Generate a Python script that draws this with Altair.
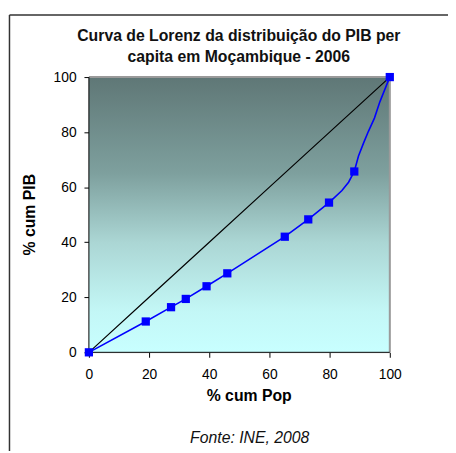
import altair as alt
import pandas as pd

# Lorenz curve points (with markers)
pop_pts = [0, 18.9, 27.3, 32.2, 39.1, 46.0, 65.1, 72.9, 79.8, 88.2, 100]
pib_pts = [0, 11.2, 16.4, 19.4, 24.0, 28.7, 42.0, 48.3, 54.4, 65.7, 100]

# full curve path (markers plus unmarked bends)
pop_curve = [0, 18.9, 27.3, 32.2, 39.1, 46.0, 65.1, 72.9, 79.8, 84.1, 86.3, 88.2, 89.6, 91.3, 92.9, 94.9, 96.7, 100]
pib_curve = [0, 11.2, 16.4, 19.4, 24.0, 28.7, 42.0, 48.3, 54.4, 58.8, 61.8, 65.7, 71.3, 76.1, 80.3, 85.1, 91.0, 100]

# line of equality
eq_x = [0, 20, 40, 60, 80, 100]
eq_y = [0, 20, 40, 60, 80, 100]

title_lines = ["Curva de Lorenz da distribuição  do PIB per", "capita em Moçambique - 2006"]
source_text = "Fonte: INE, 2008"

W, H = 305, 279
FONT = "Liberation Sans"

xs = alt.Scale(domain=[0, 100], nice=False)
ys = alt.Scale(domain=[0, 100], nice=False)

xaxis = alt.Axis(values=[0, 20, 40, 60, 80, 100], title="% cum Pop", domain=False, grid=False,
                 tickSize=5, tickColor="black", labelPadding=11, labelFontSize=14, labelFont=FONT,
                 labelColor="black", labelFlush=False, titleFont=FONT, titleFontSize=16,
                 titleFontWeight="bold", titleColor="black", titleX=162, titleY=44,
                 titleBaseline="middle")
yaxis = alt.Axis(values=[0, 20, 40, 60, 80, 100], title="% cum PIB", domain=False, grid=False,
                 tickSize=5, tickColor="black", labelPadding=8, labelFontSize=14, labelFont=FONT,
                 labelColor="black", labelFlush=False, titleFont=FONT, titleFontSize=16,
                 titleFontWeight="bold", titleColor="black", titleX=-60, titleY=139,
                 titleBaseline="middle", titleAlign="center")

grad = alt.Gradient(
    gradient="linear", x1=0, x2=0, y1=0, y2=1,
    stops=[
        alt.GradientStop(color="#5f7776", offset=0),
        alt.GradientStop(color="#7ea09e", offset=0.35),
        alt.GradientStop(color="#abd6d4", offset=0.6),
        alt.GradientStop(color="#c3f7f6", offset=0.85),
        alt.GradientStop(color="#c8ffff", offset=1),
    ],
)

base = alt.Chart(pd.DataFrame({"a": [0]}))

bg = base.mark_rect(color=grad).encode(
    x=alt.datum(0, scale=xs, axis=xaxis, type="quantitative"),
    x2=alt.datum(100),
    y=alt.datum(0, scale=ys, axis=yaxis, type="quantitative"),
    y2=alt.datum(100),
)

top_border = base.mark_rule(color="#9a9a9a", strokeWidth=2).encode(
    x=alt.datum(0, type="quantitative"), x2=alt.datum(100), y=alt.datum(100, type="quantitative"))
right_border = base.mark_rule(color="#9a9a9a", strokeWidth=2).encode(
    x=alt.datum(100, type="quantitative"), y=alt.datum(0, type="quantitative"), y2=alt.datum(100))
left_axis = base.mark_rule(color="black", strokeWidth=1).encode(
    x=alt.datum(0, type="quantitative"), y=alt.datum(0, type="quantitative"), y2=alt.datum(100))
bottom_axis = base.mark_rule(color="black", strokeWidth=1).encode(
    x=alt.datum(0, type="quantitative"), x2=alt.datum(100), y=alt.datum(0, type="quantitative"))

eq_df = pd.DataFrame({"x": eq_x, "y": eq_y})
eq_line = alt.Chart(eq_df).mark_line(color="black", strokeWidth=1.2).encode(
    x=alt.X("x:Q"), y=alt.Y("y:Q"))

curve_df = pd.DataFrame({"x": pop_curve, "y": pib_curve, "o": list(range(len(pop_curve)))})
curve = alt.Chart(curve_df).mark_line(color="#0000ff", strokeWidth=1.6).encode(
    x=alt.X("x:Q"), y=alt.Y("y:Q"), order="o:Q")

pts_df = pd.DataFrame({"x": pop_pts, "y": pib_pts})
markers = alt.Chart(pts_df).mark_point(shape="square", filled=True, size=70, color="#0000ff", opacity=1).encode(
    x=alt.X("x:Q"), y=alt.Y("y:Q"))

title1 = base.mark_text(text=title_lines[0], font=FONT, fontSize=16, fontWeight="bold", color="#111111",
                        align="center", baseline="middle").encode(x=alt.value(152), y=alt.value(-42))
title2 = base.mark_text(text=title_lines[1], font=FONT, fontSize=16, fontWeight="bold", color="#111111",
                        align="center", baseline="middle").encode(x=alt.value(152), y=alt.value(-20))

source = base.mark_text(text=source_text, font=FONT, fontSize=16, fontStyle="italic", color="#111111",
                        align="center", baseline="middle").encode(
    x=alt.value(163), y=alt.value(366))

frame_top = base.mark_rule(color="#333333", strokeWidth=1.5).encode(
    x=alt.value(-80.5), x2=alt.value(364), y=alt.value(-63))
frame_left = base.mark_rule(color="#333333", strokeWidth=1.5).encode(
    x=alt.value(-80.5), y=alt.value(-63), y2=alt.value(385))

chart = alt.layer(
    bg, top_border, right_border, left_axis, bottom_axis, eq_line, curve, markers,
    title1, title2, source, frame_top, frame_left
).properties(
    width=W, height=H,
    autosize=alt.AutoSizeParams(type="none"),
    padding={"left": 82, "top": 67, "right": 59, "bottom": 97},
).configure_view(stroke=None).configure(background="white")

chart.save("out.html", embed_options={"renderer": "svg", "actions": False})
